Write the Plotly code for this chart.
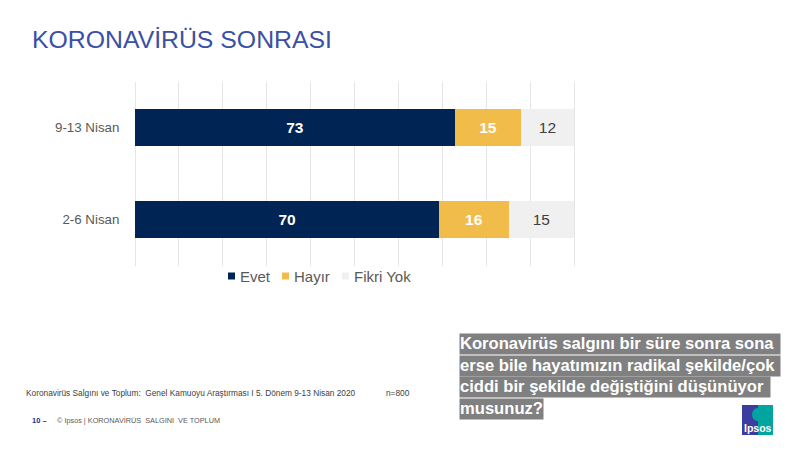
import plotly.graph_objects as go

W, H = 800, 450

categories = ['9-13 Nisan', '2-6 Nisan']
series_names = ['Evet', 'Hayır', 'Fikri Yok']
evet = [72.9, 69.3]
hayir = [15.0, 15.8]
fikri_yok = [12.1, 14.9]
evet_labels = ['73', '70']
hayir_labels = ['15', '16']
fikri_labels = ['12', '15']
colors = ['#002554', '#F2BC4A', '#F0F0F0']
label_colors = ['white', 'white', '#404040']

question_lines = ['Koronavirüs salgını bir süre sonra sona',
                  'erse bile hayatımızın radikal şekilde/çok',
                  'ciddi bir şekilde değiştiğini düşünüyor',
                  'musunuz?']
question_widths = [320, 320, 310, 83]
question_tops = [333, 355, 376, 398]

FONT = 'Liberation Sans'


def px(x):
    return x / W


def py(y):
    return 1 - y / H


fig = go.Figure()
for name, vals, labels, color, lcolor in zip(series_names, [evet, hayir, fikri_yok],
                                             [evet_labels, hayir_labels, fikri_labels],
                                             colors, label_colors):
    weight = 'normal' if name == 'Fikri Yok' else 'bold'
    fig.add_trace(go.Bar(y=categories, x=vals, name=name, orientation='h',
                         marker=dict(color=color, line_width=0),
                         text=labels, textposition='inside', insidetextanchor='middle',
                         textangle=0, constraintext='none',
                         textfont=dict(family=FONT, size=15.5, color=lcolor, weight=weight),
                         showlegend=False, hoverinfo='skip'))

annotations = []
shapes = []


def note(x, y, text, size, color, **kw):
    annotations.append(dict(x=px(x), y=py(y), xref='paper', yref='paper', text=text, showarrow=False,
                            xanchor=kw.pop('xanchor', 'left'), yanchor='middle',
                            font=dict(family=FONT, size=size, color=color, **kw)))


# title
note(30, 39, 'KORONAVİRÜS SONRASI', 24.8, '#3A50A4')

# legend
legend_x = [228, 282, 342]
for name, color, x in zip(series_names, colors, legend_x):
    shapes.append(dict(type='rect', xref='paper', yref='paper', x0=px(x), x1=px(x + 7),
                       y0=py(279.5), y1=py(272.5), fillcolor=color, line_width=0))
    note(x + 10, 276, name, 15, '#595959')

# footer
note(24, 392.5, 'Koronavirüs Salgını ve Toplum:  Genel Kamuoyu Araştırması I 5. Dönem 9-13 Nisan 2020', 8.3, '#404040')
note(384, 392.5, 'n=800', 8.3, '#404040')
note(30, 420, '10 –', 7.5, '#1F2F7F', weight='bold')
note(55, 420, '© Ipsos | KORONAVİRÜS  SALGINI  VE TOPLUM', 7.3, '#595959')

# question box, one grey strip per line
for line, width, top in zip(question_lines, question_widths, question_tops):
    annotations.append(dict(x=px(459), y=py(top), xref='paper', yref='paper', text=line, showarrow=False,
                            xanchor='left', yanchor='top', align='left', width=width, height=19.5,
                            bgcolor='#808080', borderpad=0,
                            font=dict(family=FONT, size=16.6, color='white', weight='bold')))

# logo
shapes.append(dict(type='rect', xref='paper', yref='paper', x0=px(742), x1=px(758), y0=py(435), y1=py(405),
                   fillcolor='#3B3E9E', line_width=0))
shapes.append(dict(type='rect', xref='paper', yref='paper', x0=px(758), x1=px(773), y0=py(435), y1=py(405),
                   fillcolor='#00A5A0', line_width=0))
shapes.append(dict(type='circle', xref='paper', yref='paper', x0=px(752), x1=px(763), y0=py(421), y1=py(408),
                   fillcolor='#00A5A0', line_width=0))
note(757.5, 428, 'Ipsos', 10.5, 'white', weight='bold', xanchor='center')

# 2px of slack each side so the 0 and 100 gridlines are not clipped
slack = 2 / 4.39

fig.update_layout(
    width=W, height=H, autosize=False,
    margin=dict(l=0, r=0, t=0, b=0),
    paper_bgcolor='white', plot_bgcolor='white',
    barmode='stack', bargap=0.6,
    annotations=annotations, shapes=shapes,
    xaxis=dict(domain=[px(133), px(576)], range=[-slack, 100 + slack], tick0=0, dtick=10, showgrid=True,
               gridcolor='#E6E6E6', gridwidth=1, zeroline=False, showticklabels=False, ticks=''),
    yaxis=dict(domain=[py(265.5), py(81.5)], autorange='reversed', showgrid=False, zeroline=False,
               ticks='outside', ticklen=10, tickcolor='rgba(0,0,0,0)',
               tickfont=dict(family=FONT, size=13.3, color='#595959')),
)

fig.write_html("out.html", config=dict(displayModeBar=False),
               post_script="document.body.style.margin='0';")
